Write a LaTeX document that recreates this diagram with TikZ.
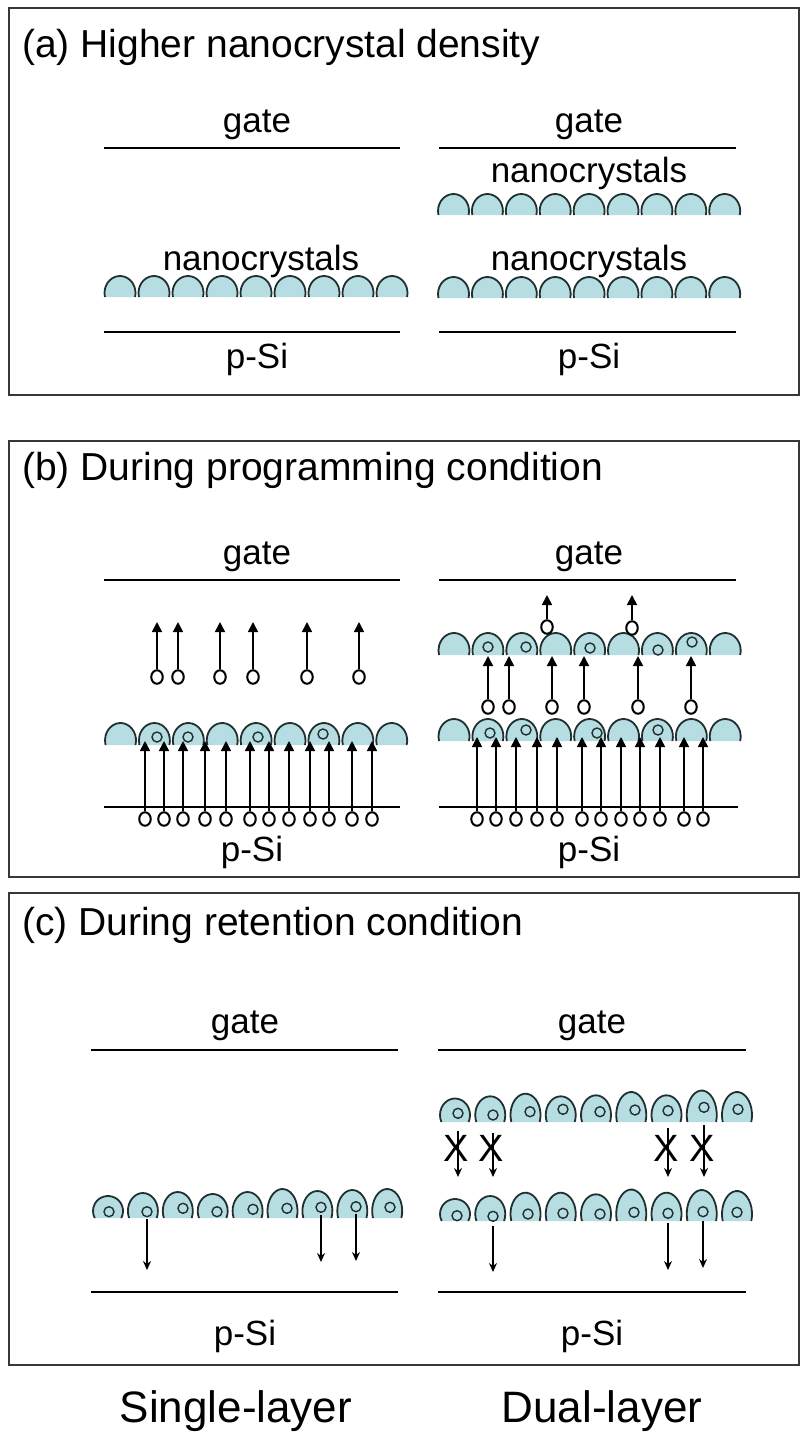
\documentclass[tikz,border=0pt]{standalone}
\usepackage{fontspec}
\setmainfont{Liberation Sans}
\usetikzlibrary{arrows.meta,shapes.geometric}

\definecolor{ncfill}{RGB}{182,221,225}
\definecolor{ncedge}{RGB}{32,48,48}
\definecolor{framegray}{RGB}{55,55,55}

\tikzset{
  panel/.style={draw=framegray, line width=2pt},
  layer/.style={line width=1.6pt},
  ttl/.style={anchor=base west, inner sep=0pt, font=\fontsize{39}{45}\selectfont},
  lbl/.style={anchor=base, inner sep=0pt, font=\fontsize{35}{40}\selectfont},
  big/.style={anchor=base, inner sep=0pt, font=\fontsize{44}{50}\selectfont},
  domeedge/.style={draw=ncedge, line width=1.8pt},
  electron/.style={ellipse, draw, line width=2pt, fill=white,
    minimum width=11.5pt, minimum height=13.5pt, inner sep=0pt},
  trapped/.style={circle, draw=ncedge, line width=1.4pt, fill=ncfill,
    minimum size=10pt, inner sep=0pt},
  pgm/.style={line width=1.6pt, -{Triangle[length=10pt,width=10pt]}},
  ret/.style={line width=1.4pt, -{Stealth[length=9pt,width=8pt]}},
  blockx/.style={inner sep=0pt, font=\fontsize{38}{40}\selectfont},
}

% one nanocrystal: centre x, bottom y, x radius, y radius, depth of cut below centre
\newcommand{\ncdome}[5]{%
  \pgfmathsetmacro{\ncang}{asin(#5/#4)}%
  \pgfmathsetmacro{\ncxr}{#1+#3*cos(\ncang)}%
  \fill[ncfill] (\ncxr,#2) arc[start angle=\ncang, end angle=-180-\ncang,
    x radius=#3, y radius=#4] -- cycle;
  \draw[domeedge] (\ncxr,#2) arc[start angle=\ncang, end angle=-180-\ncang,
    x radius=#3, y radius=#4];
}

\begin{document}
\begin{tikzpicture}[x=1pt,y=-1pt]
\useasboundingbox (0,0) rectangle (802,1435);
\fill[white] (0,0) rectangle (802,1435);

% ---------- frames ----------
\draw[panel] (9,8) rectangle (799,395);
\draw[panel] (9,441) rectangle (799,877);
\draw[panel] (9,893) rectangle (799,1365);

% ---------- (a) ----------
\node[ttl] (ta) at (22,57) {(a) Higher nanocrystal density};
\node[lbl] (gateA1) at (257,132) {gate};
\node[lbl] (gateA2) at (589,132) {gate};
\draw[layer] (104,148) -- (400,148);
\draw[layer] (439,148) -- (736,148);

\node[lbl] (ncA1) at (261,270) {nanocrystals};
\node[lbl] (ncA2) at (589,182) {nanocrystals};
\node[lbl] (ncA3) at (589,270) {nanocrystals};
\foreach \i in {0,...,8}{
  \ncdome{120+34*\i}{297}{15.5}{17}{4}
  \ncdome{453.5+33.9*\i}{215}{15.5}{17}{4}
  \ncdome{453.5+33.9*\i}{298}{15.5}{17}{4}
}

\draw[layer] (104,332) -- (400,332);
\draw[layer] (439,332) -- (736,332);
\node[lbl] (siA1) at (257,368) {p-Si};
\node[lbl] (siA2) at (589,368) {p-Si};

% ---------- (b) ----------
\node[ttl] (tb) at (22,480) {(b) During programming condition};
\node[lbl] (gateB1) at (257,564) {gate};
\node[lbl] (gateB2) at (589,564) {gate};
\draw[layer] (104,580) -- (400,580);
\draw[layer] (439,580) -- (736,580);

\foreach \i in {0,...,8}{
  \ncdome{120.5+33.9*\i}{745}{15.5}{17.5}{4.5}
  \ncdome{454+33.9*\i}{655}{15.5}{17.5}{4.5}
  \ncdome{454+33.9*\i}{741}{15.5}{17.5}{4.5}
}
% charge stored in the nanocrystals
\foreach \x/\y [count=\k] in {157/737,188/737,258/737,323/734}
  \node[trapped] (bsL\k) at (\x,\y) {};
\foreach \x/\y [count=\k] in {488/647,526/647,590/648,658/650,692/642}
  \node[trapped] (bsU\k) at (\x,\y) {};
\foreach \x/\y [count=\k] in {490/733,526/730,597/733,658/730}
  \node[trapped] (bsM\k) at (\x,\y) {};

% single layer: electrons passing the nanocrystals towards the gate
\foreach \x [count=\k] in {157,178,220,253,307,359}{
  \node[electron] (bfL\k) at (\x,677) {};
  \coordinate (bfLt\k) at (\x,622);
  \draw[pgm] (bfL\k) -- (bfLt\k);
}
% dual layer: electrons between the two layers
\foreach \x [count=\k] in {488,509,552,584,638,691}{
  \node[electron] (bfR\k) at (\x,707) {};
  \coordinate (bfRt\k) at (\x,656);
  \draw[pgm] (bfR\k) -- (bfRt\k);
}
% dual layer: electrons escaping the upper layer
\foreach \x/\y [count=\k] in {547/627,632/628}{
  \node[electron] (beR\k) at (\x,\y) {};
  \coordinate (beRt\k) at (\x,595);
  \draw[pgm] (beR\k) -- (beRt\k);
}

\draw[layer] (104,807) -- (400,807);
\draw[layer] (439,807) -- (738,807);
% electrons injected from the substrate
\foreach \x [count=\k] in {145,164,183,205,226,250,269,289,310,329,352,372}{
  \node[electron] (biL\k) at (\x,819) {};
  \coordinate (biLt\k) at (\x,741);
  \draw[pgm] (biL\k) -- (biLt\k);
}
\foreach \x [count=\k] in {477,496,516,537,557,582,601,621,640,660,684,703}{
  \node[electron] (biR\k) at (\x,819) {};
  \coordinate (biRt\k) at (\x,737);
  \draw[pgm] (biR\k) -- (biRt\k);
}
\node[lbl] (siB1) at (252,861) {p-Si};
\node[lbl] (siB2) at (589,861) {p-Si};

% ---------- (c) ----------
\node[ttl] (tc) at (22,935) {(c) During retention condition};
\node[lbl] (gateC1) at (245,1033) {gate};
\node[lbl] (gateC2) at (592,1033) {gate};
\draw[layer] (91,1050) -- (398,1050);
\draw[layer] (438,1050) -- (746,1050);

% single layer
\foreach \cx/\h/\ex/\ey [count=\k] in {
  108/19/109/1211.7, 142.9/22/147/1211.7, 177.8/23/183/1208.3,
  212.7/21/217/1211.7, 247.6/23/253/1209.3, 282.5/26/287/1208.3,
  317.4/24/321/1207.3, 352.3/25/356/1206.7, 387.2/26/390/1207.3}{
  \pgfmathsetmacro{\ncry}{\h-4}
  \ncdome{\cx}{1218}{15}{\ncry}{7}
  \node[trapped] (cl\k) at (\ex,\ey) {};
}
% dual layer, upper
\foreach \cx/\h/\ex/\ey [count=\k] in {
  455/20.5/458/1113.3, 490.25/22.7/493/1115, 525.5/25.3/530/1111.7,
  560.75/22.7/563/1109.3, 596/23.7/600/1111.7, 631.25/27/635/1110,
  666.5/23.7/668/1110.7, 701.75/28.5/704/1107.3, 737/27/738/1109.3}{
  \pgfmathsetmacro{\ncry}{\h-4}
  \ncdome{\cx}{1122}{15}{\ncry}{7}
  \node[trapped] (cu\k) at (\ex,\ey) {};
}
% dual layer, lower
\foreach \cx/\h/\ex/\ey [count=\k] in {
  455/19/457/1215.7, 490.25/22/493/1216.3, 525.5/25.3/528/1214,
  560.75/25.3/563/1213.3, 596/23.7/600/1214, 631.25/28.5/634/1212.3,
  666.5/25.3/668/1213.3, 701.75/28/703/1211.7, 737/27/737/1212.3}{
  \pgfmathsetmacro{\ncry}{\h-4}
  \ncdome{\cx}{1221}{15}{\ncry}{7}
  \node[trapped] (cd\k) at (\ex,\ey) {};
}

% leakage from the single layer
\foreach \k/\y in {2/1270,7/1262,8/1261}{
  \coordinate (clEnd\k) at (cl\k |- 0,\y);
  \draw[ret, shorten <=2pt] (cl\k) -- (clEnd\k);
}
% blocked leakage between the two layers
\foreach \k in {1,2,7,8}{
  \coordinate (cuEnd\k) at (cu\k |- 0,1177);
  \draw[ret, shorten <=12pt] (cu\k) -- (cuEnd\k);
  \node[blockx] (blk\k) at ([xshift=-2pt]cu\k |- 0,1148) {X};
}
% leakage from the lower layer
\foreach \k/\y in {2/1272,7/1270,8/1268}{
  \coordinate (cdEnd\k) at (cd\k |- 0,\y);
  \draw[ret, shorten <=4pt] (cd\k) -- (cdEnd\k);
}

\draw[layer] (91,1292) -- (398,1292);
\draw[layer] (438,1292) -- (746,1292);
\node[lbl] (siC1) at (245,1345) {p-Si};
\node[lbl] (siC2) at (592,1345) {p-Si};

% ---------- column captions ----------
\node[big] (single) at (236,1422) {Single-layer};
\node[big] (dual) at (602,1422) {Dual-layer};
\end{tikzpicture}
\end{document}
